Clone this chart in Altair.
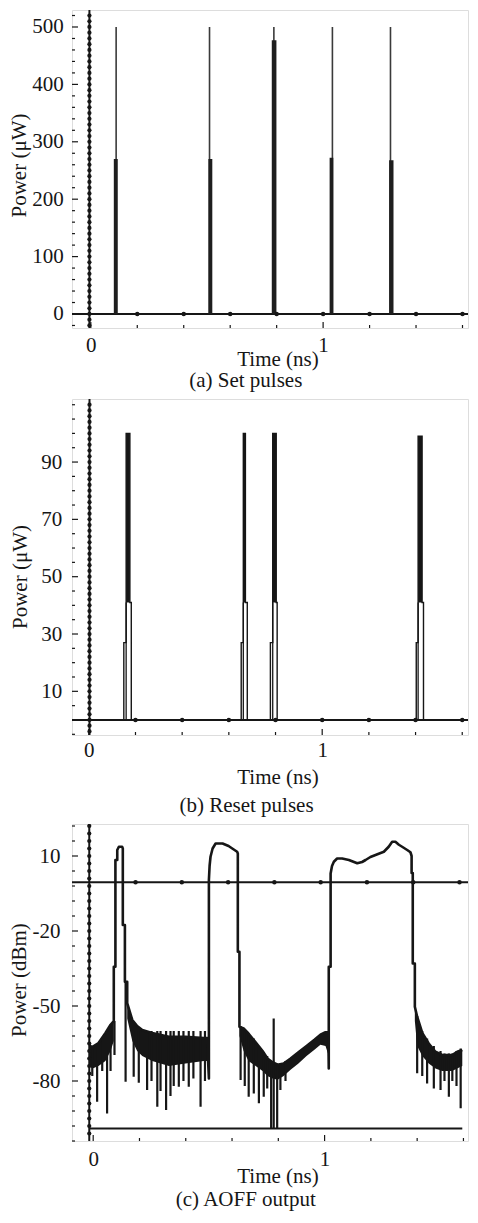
import altair as alt
import pandas as pd

FONT = "Liberation Serif"
INK = "#161616"
FS = 21
PLOT_W = 396

y_titles = ["Power (μW)", "Power (μW)", "Power (dBm)"]
x_title = "Time (ns)"
sub_titles = ["(a) Set pulses", "(b) Reset pulses", "(c) AOFF output"]

# ---------------- (a) Set pulses ----------------
a_x_domain = [-0.0810, 1.6237]
a_y_domain = [-24.4, 529.6]
a_pulse_start = [0.099, 0.506, 0.779, 1.028, 1.284]
a_pulse_end = [0.116, 0.523, 0.799, 1.044, 1.303]
a_pulse_spike = [0.109, 0.511, 0.788, 1.040, 1.290]
a_pulse_body = [270, 270, 477, 272, 268]
a_pulse_peak = [500, 500, 500, 500, 500]
a_zero_t = -0.006
a_vdots = list(range(-20, 521, 10))
a_hdots = [0.2, 0.4, 0.6, 0.8, 1.0, 1.2, 1.4, 1.6]
a_yticks = [0, 100, 200, 300, 400, 500]
a_yminor = [v for v in range(-20, 521, 20) if v % 100]

# ---------------- (b) Reset pulses ----------------
b_x_domain = [-0.0720, 1.6247]
b_y_domain = [-5.24, 112.0]
b_x1 = [0.150, 0.653, 0.778, 1.403]
b_x2 = [0.160, 0.662, 0.788, 1.411]
b_x3 = [0.176, 0.671, 0.803, 1.428]
b_x4 = [0.182, 0.679, 0.807, 1.434]
b_step_lo = [27, 27, 27, 27]
b_step_hi = [41, 41, 41, 41]
b_peak = [100, 100, 100, 99]
b_zero_t = 0.003
b_vdots = list(range(-4, 111, 2))
b_hdots = [0.2, 0.4, 0.6, 0.8, 1.0, 1.2, 1.4, 1.6]
b_yticks = [10, 30, 50, 70, 90]
b_yminor = [v for v in range(-5, 111, 5) if v not in b_yticks]

# ---------------- (c) AOFF output ----------------
c_x_domain = [-0.0916, 1.6197]
c_y_domain = [-104.0, 22.8]
c_trace_t = [
    -0.017, -0.003, 0.023, 0.053, 0.075, 0.089,
    0.089, 0.096, 0.096, 0.104, 0.104, 0.111, 0.125, 0.128, 0.128, 0.137, 0.137, 0.147, 0.147,
    0.169, 0.190, 0.212, 0.255, 0.327, 0.399, 0.478, 0.492,
    0.500, 0.500, 0.503, 0.507, 0.516, 0.529, 0.559, 0.585, 0.601, 0.622, 0.625, 0.625, 0.632, 0.632,
    0.650, 0.671, 0.702, 0.732, 0.753, 0.775, 0.797, 0.823, 0.853, 0.887, 0.922, 0.956, 0.982, 1.004, 1.016,
    1.018, 1.018, 1.026, 1.026, 1.032, 1.040, 1.054, 1.076, 1.105, 1.141, 1.162, 1.177, 1.198, 1.220,
    1.256, 1.277, 1.292, 1.306, 1.321, 1.335, 1.357, 1.371, 1.376, 1.376, 1.381, 1.381, 1.390, 1.390,
    1.400, 1.422, 1.450, 1.479, 1.508, 1.551, 1.573, 1.595,
]
c_trace_p = [
    -66.0, -66.3, -64.8, -60.8, -57.5, -56.0,
    -34.3, -34.3, 8.4, 8.4, 12.4, 13.7, 13.7, 13.0, -17.6, -17.6, -40.3, -40.3, -48.9,
    -55.6, -58.0, -59.6, -60.8, -62.3, -62.3, -62.8, -62.8,
    -79.0, 0.4, 6.0, 9.7, 13.0, 15.0, 15.0, 14.0, 13.0, 11.7, 11.0, -28.3, -28.3, -58.3,
    -59.0, -61.0, -64.5, -68.0, -71.0, -72.5, -73.5, -73.0, -71.0, -68.5, -66.0, -63.5, -61.5, -60.5, -60.5,
    -75.0, -34.3, -34.3, 3.0, 6.0, 7.7, 9.0, 9.0, 8.4, 7.1, 7.6, 8.4, 9.6, 10.4,
    11.7, 13.7, 15.7, 15.7, 14.5, 13.7, 12.4, 11.5, 10.0, 3.2, 3.2, -33.0, -33.0, -50.3,
    -54.3, -60.8, -65.0, -68.3, -69.6, -69.6, -68.3, -67.6,
]
c_band1_t = [-0.017, -0.003, 0.023, 0.053, 0.075, 0.089]
c_band1_hi = [-66.0, -66.3, -64.8, -60.8, -57.5, -56.0]
c_band1_lo = [-74.0, -75.0, -74.0, -72.0, -68.0, -64.0]
c_band2_t = [0.147, 0.169, 0.190, 0.212, 0.255, 0.327, 0.399, 0.478, 0.492]
c_band2_hi = [-48.9, -55.6, -58.0, -59.6, -60.8, -62.3, -62.3, -62.8, -62.8]
c_band2_lo = [-55.0, -64.0, -68.0, -70.0, -72.0, -74.0, -73.0, -72.0, -72.0]
c_band3_t = [0.632, 0.650, 0.671, 0.702, 0.732, 0.753, 0.775, 0.797, 0.823, 0.853, 0.887, 0.922, 0.956, 0.982, 1.004, 1.018]
c_band3_hi = [-58.3, -59.0, -61.0, -64.5, -68.0, -71.0, -72.5, -73.5, -73.0, -71.0, -68.5, -66.0, -63.5, -61.5, -60.5, -60.5]
c_band3_lo = [-62.0, -68.0, -72.0, -74.0, -76.0, -78.0, -79.0, -79.5, -78.0, -75.5, -73.0, -70.0, -67.5, -65.5, -66.0, -70.0]
c_band4_t = [1.390, 1.400, 1.422, 1.450, 1.479, 1.508, 1.551, 1.573, 1.595]
c_band4_hi = [-50.3, -54.3, -60.8, -65.0, -68.3, -69.6, -69.6, -68.3, -67.6]
c_band4_lo = [-56.0, -66.0, -70.0, -73.0, -75.0, -76.0, -76.0, -75.0, -74.0]
c_spike_t = [
    -0.004, 0.017, 0.039, 0.060, 0.075, 0.092,
    0.140, 0.175, 0.197, 0.233, 0.252, 0.277, 0.291, 0.315, 0.334, 0.348, 0.370, 0.390, 0.413, 0.433, 0.464, 0.483,
    0.637, 0.655, 0.672, 0.694, 0.716, 0.737, 0.752, 0.769, 0.780, 0.795, 0.809, 0.831,
    1.400, 1.422, 1.443, 1.472, 1.501, 1.518, 1.537, 1.552, 1.570, 1.588,
]
c_spike_hi = [
    -66, -65, -63, -61, -58, -56,
    -40, -60, -60, -60, -60, -60, -60, -60, -60, -60, -60, -60, -60, -60, -60, -60,
    -58, -60, -61, -63, -66, -69, -70, -72, -55, -73, -73, -72,
    -54, -60, -63, -66, -68, -69, -69, -69, -68, -67,
]
c_spike_lo = [
    -78.0, -88.3, -76.0, -93.0, -76.0, -69.6,
    -80.3, -78.3, -80.7, -83.6, -80.0, -90.3, -84.0, -91.6, -86.0, -82.0, -82.3, -80.0, -82.3, -79.0, -90.3, -80.0,
    -79.6, -82.0, -86.3, -85.0, -88.9, -86.3, -83.0, -99.0, -99.0, -99.0, -83.6, -80.0,
    -76.9, -78.0, -81.0, -83.0, -83.6, -80.0, -86.3, -80.0, -82.0, -90.9,
]
c_zero_t = -0.017
c_ref_hi = -0.5
c_ref_lo = -99.0
c_ref_lo_end = 1.595
c_hdots = [0.183, 0.383, 0.583, 0.783, 0.983, 1.183, 1.383, 1.583]
c_vdots = [22 - 3 * k for k in range(42)]
c_yticks = [10, -20, -50, -80]
c_yminor = [v for v in range(22, -105, -6) if v not in c_yticks]

x_major = [0, 1]
x_minor = [0.2, 0.4, 0.6, 0.8, 1.2, 1.4, 1.6]


def x_axis(label_pad, title_pad):
    return alt.Axis(values=x_major, labelExpr="'' + datum.value", labelFont=FONT, labelFontSize=FS,
                    labelColor=INK, labelPadding=label_pad, labelFlush=False, labelOverlap=False,
                    ticks=False, tickSize=0, domain=False, grid=False,
                    title=x_title, titleFont=FONT, titleFontSize=FS, titleFontWeight="normal",
                    titleColor=INK, titlePadding=title_pad, titleX=205.5)


def y_axis(values, label_pad):
    return alt.Axis(values=values, labelExpr="'' + datum.value", labelFont=FONT, labelFontSize=FS,
                    labelColor=INK, labelPadding=label_pad, labelFlush=False, labelOverlap=False,
                    ticks=False, tickSize=0, domain=False, grid=False, title=None)


class Panel:
    def __init__(self, xdom, ydom, xaxis, yaxis):
        self.xs = alt.Scale(domain=xdom, nice=False, zero=False)
        self.ys = alt.Scale(domain=ydom, nice=False, zero=False)
        self.xaxis = xaxis
        self.yaxis = yaxis

    def X(self, field):
        return alt.X(f"{field}:Q", scale=self.xs, axis=self.xaxis)

    def Y(self, field):
        return alt.Y(f"{field}:Q", scale=self.ys, axis=self.yaxis)

    def ticks(self, H, ymajor, yminor):
        return [
            alt.Chart(pd.DataFrame({"t": x_major})).mark_rule(color=INK, strokeWidth=1.2).encode(
                x=self.X("t"), y=alt.value(H), y2=alt.value(H - 6)),
            alt.Chart(pd.DataFrame({"t": x_minor})).mark_rule(color=INK, strokeWidth=1.2).encode(
                x=self.X("t"), y=alt.value(H), y2=alt.value(H - 3)),
            alt.Chart(pd.DataFrame({"p": ymajor})).mark_rule(color=INK, strokeWidth=1.2).encode(
                y=self.Y("p"), x=alt.value(0), x2=alt.value(6)),
            alt.Chart(pd.DataFrame({"p": yminor})).mark_rule(color=INK, strokeWidth=1.2).encode(
                y=self.Y("p"), x=alt.value(0), x2=alt.value(3)),
        ]

    def dots(self, zero_t, vdots, zero_p, hdots):
        return [
            alt.Chart(pd.DataFrame({"t": [zero_t] * len(vdots), "p": vdots})).mark_circle(
                size=18, color=INK, opacity=1, clip=True).encode(x=self.X("t"), y=self.Y("p")),
            alt.Chart(pd.DataFrame({"t": hdots, "p": [zero_p] * len(hdots)})).mark_circle(
                size=20, color=INK, opacity=1, clip=True).encode(x=self.X("t"), y=self.Y("p")),
        ]


def y_title_layer(text, x, y):
    return alt.Chart(pd.DataFrame({"label": [text]})).mark_text(
        font=FONT, fontSize=FS, color=INK, angle=270, align="center", baseline="middle"
    ).encode(text="label:N", x=alt.value(x), y=alt.value(y))


def subtitle(text, offset):
    return alt.TitleParams(text=text, orient="bottom", anchor="middle", frame="bounds",
                           font=FONT, fontSize=FS, fontWeight="normal", color=INK,
                           baseline="top", offset=offset, dx=7)


# ---- panel (a)
H_a = 318
pa = Panel(a_x_domain, a_y_domain, x_axis(6.6, -7.6), y_axis(a_yticks, 8.7))
a_df = pd.DataFrame({"t": a_pulse_start, "t2": a_pulse_end, "ts": a_pulse_spike,
                     "body": a_pulse_body, "peak": a_pulse_peak, "base": [0] * len(a_pulse_start)})
a_layers = pa.ticks(H_a, a_yticks, a_yminor) + [
    alt.Chart(pd.DataFrame({"t": [a_zero_t]})).mark_rule(color=INK, strokeWidth=2).encode(x=pa.X("t")),
    alt.Chart(pd.DataFrame({"p": [0]})).mark_rule(color=INK, strokeWidth=2).encode(y=pa.Y("p")),
    alt.Chart(a_df).mark_rule(color="#3a3a3a", strokeWidth=1.6).encode(
        x=pa.X("ts"), y=pa.Y("base"), y2="peak"),
    alt.Chart(a_df).mark_rect(color="#1e1e1e").encode(
        x=pa.X("t"), x2="t2", y=pa.Y("base"), y2="body"),
] + pa.dots(a_zero_t, a_vdots, 0, a_hdots) + [y_title_layer(y_titles[0], -52.5, 155.5)]
panel_a = alt.layer(*a_layers).properties(width=PLOT_W, height=H_a, title=subtitle(sub_titles[0], 1.0))

# ---- panel (b)
H_b = 336
pb = Panel(b_x_domain, b_y_domain, x_axis(4.6, 5.4), y_axis(b_yticks, 10.3))
b_rows = []
for i in range(len(b_x1)):
    pts = [(b_x1[i], 0), (b_x1[i], b_step_lo[i]), (b_x2[i], b_step_lo[i]), (b_x2[i], b_peak[i]),
           (b_x3[i], b_peak[i]), (b_x3[i], b_step_hi[i]), (b_x4[i], b_step_hi[i]), (b_x4[i], 0)]
    for k, (t, p) in enumerate(pts):
        b_rows.append({"pulse": i, "k": k, "t": t, "p": p})
b_path = pd.DataFrame(b_rows)
b_df = pd.DataFrame({"t": b_x2, "t2": b_x3, "lo": b_step_hi, "hi": b_peak, "base": [0] * len(b_x2)})
b_layers = pb.ticks(H_b, b_yticks, b_yminor) + [
    alt.Chart(pd.DataFrame({"t": [b_zero_t]})).mark_rule(color=INK, strokeWidth=2).encode(x=pb.X("t")),
    alt.Chart(pd.DataFrame({"p": [0]})).mark_rule(color=INK, strokeWidth=2).encode(y=pb.Y("p")),
    alt.Chart(b_path).mark_line(color=INK, strokeWidth=1.4).encode(
        x=pb.X("t"), y=pb.Y("p"), detail="pulse:N", order="k:Q"),
    alt.Chart(b_df).mark_rect(color=INK).encode(x=pb.X("t"), x2="t2", y=pb.Y("lo"), y2="hi"),
    alt.Chart(b_df).mark_rule(color=INK, strokeWidth=1.3).encode(
        x=pb.X("t"), y=pb.Y("base"), y2="lo"),
] + pb.dots(b_zero_t, b_vdots, 0, b_hdots) + [y_title_layer(y_titles[1], -51, 178)]
panel_b = alt.layer(*b_layers).properties(width=PLOT_W, height=H_b, title=subtitle(sub_titles[1], 8))

# ---- panel (c)
H_c = 317
pc = Panel(c_x_domain, c_y_domain, x_axis(7.6, -4.1), y_axis(c_yticks, 12))
c_trace = pd.DataFrame({"i": list(range(len(c_trace_t))), "t": c_trace_t, "p": c_trace_p})
band_parts = []
for s, (bt, bh, bl) in enumerate([(c_band1_t, c_band1_hi, c_band1_lo), (c_band2_t, c_band2_hi, c_band2_lo),
                                  (c_band3_t, c_band3_hi, c_band3_lo), (c_band4_t, c_band4_hi, c_band4_lo)]):
    band_parts.append(pd.DataFrame({"seg": [s] * len(bt), "t": bt, "hi": bh, "lo": bl}))
c_band = pd.concat(band_parts, ignore_index=True)
c_spikes = pd.DataFrame({"t": c_spike_t, "hi": c_spike_hi, "lo": c_spike_lo})
c_layers = pc.ticks(H_c, c_yticks, c_yminor) + [
    alt.Chart(pd.DataFrame({"t": [c_zero_t]})).mark_rule(color=INK, strokeWidth=2).encode(x=pc.X("t")),
    alt.Chart(pd.DataFrame({"p": [c_ref_hi]})).mark_rule(color=INK, strokeWidth=2).encode(y=pc.Y("p")),
    alt.Chart(pd.DataFrame({"t": [c_zero_t], "t2": [c_ref_lo_end], "p": [c_ref_lo]})).mark_rule(
        color=INK, strokeWidth=2).encode(x=pc.X("t"), x2="t2", y=pc.Y("p")),
    alt.Chart(c_band).mark_area(color=INK, opacity=1).encode(
        x=pc.X("t"), y=pc.Y("hi"), y2="lo", detail="seg:N"),
    alt.Chart(c_spikes).mark_rule(color=INK, strokeWidth=2.2).encode(
        x=pc.X("t"), y=pc.Y("hi"), y2="lo"),
    alt.Chart(c_trace).mark_line(color=INK, strokeWidth=2.6, strokeJoin="round").encode(
        x=pc.X("t"), y=pc.Y("p"), order="i:Q"),
] + pc.dots(c_zero_t, c_vdots, c_ref_hi, c_hdots) + [y_title_layer(y_titles[2], -52.5, 156)]
panel_c = alt.layer(*c_layers).properties(width=PLOT_W, height=H_c, title=subtitle(sub_titles[2], 2.5))

chart = alt.vconcat(panel_a, panel_b, panel_c, spacing=5).properties(
    padding={"left": 0, "top": 0, "right": 0, "bottom": 0}
).configure_view(stroke=INK, strokeWidth=1.5).configure(background="white")

chart.save("out.html", embed_options={"renderer": "svg", "actions": False})
